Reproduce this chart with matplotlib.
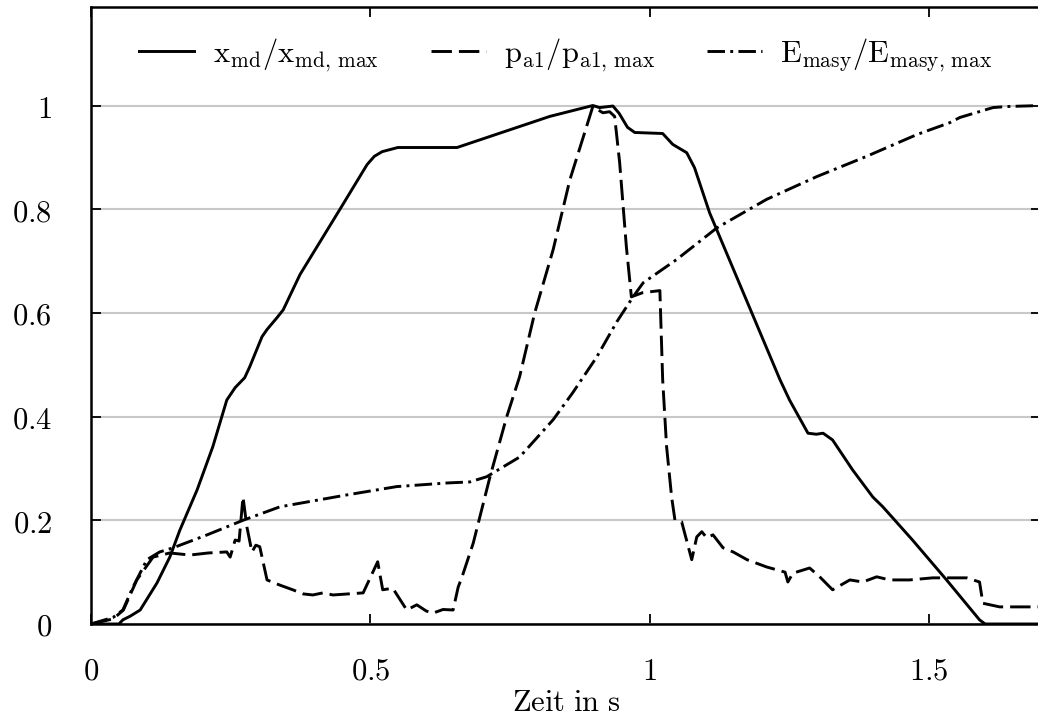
import numpy as np
import matplotlib
matplotlib.use('Agg')
import matplotlib.pyplot as plt
from matplotlib.ticker import FuncFormatter

plt.rcParams['mathtext.fontset'] = 'cm'
plt.rcParams['font.family'] = 'DejaVu Serif'

# x_md / x_md,max
t_x = [0, 0.05, 0.057, 0.07, 0.088, 0.118, 0.141, 0.159, 0.19, 0.218, 0.243, 0.258,
       0.275, 0.284, 0.306, 0.315, 0.333, 0.344, 0.374, 0.445, 0.494, 0.507, 0.521,
       0.549, 0.655, 0.821, 0.898, 0.91, 0.934, 0.945, 0.96, 0.973, 1.023, 1.041,
       1.066, 1.08, 1.107, 1.233, 1.25, 1.283, 1.298, 1.31, 1.327, 1.363, 1.399,
       1.417, 1.47, 1.531, 1.59, 1.6, 1.7]
x_md = [0, 0, 0.008, 0.015, 0.027, 0.079, 0.129, 0.181, 0.259, 0.342, 0.432, 0.456,
        0.475, 0.496, 0.554, 0.568, 0.591, 0.606, 0.674, 0.799, 0.886, 0.902, 0.911,
        0.919, 0.919, 0.979, 1.0, 0.996, 0.999, 0.985, 0.958, 0.948, 0.946, 0.925,
        0.909, 0.88, 0.793, 0.471, 0.432, 0.368, 0.366, 0.368, 0.355, 0.297, 0.245,
        0.226, 0.162, 0.085, 0.008, 0, 0]

# p_a1 / p_a1,max
t_p = [0, 0.04, 0.058, 0.082, 0.111, 0.141, 0.177, 0.21, 0.243, 0.249, 0.258, 0.265,
       0.272, 0.279, 0.288, 0.295, 0.302, 0.315, 0.338, 0.361, 0.38, 0.397, 0.415,
       0.433, 0.46, 0.487, 0.513, 0.522, 0.54, 0.565, 0.583, 0.6, 0.612, 0.63, 0.648,
       0.657, 0.664, 0.684, 0.714, 0.744, 0.767, 0.794, 0.827, 0.857, 0.898, 0.916,
       0.928, 0.937, 0.946, 0.958, 0.967, 0.987, 1.018, 1.023, 1.03, 1.039, 1.045,
       1.057, 1.075, 1.084, 1.093, 1.102, 1.113, 1.131, 1.149, 1.174, 1.209, 1.242,
       1.247, 1.256, 1.286, 1.304, 1.327, 1.358, 1.381, 1.406, 1.429, 1.465, 1.506,
       1.567, 1.59, 1.596, 1.626, 1.7]
p_a1 = [0, 0.01, 0.027, 0.085, 0.129, 0.137, 0.133, 0.137, 0.139, 0.129, 0.162, 0.16,
        0.245, 0.187, 0.139, 0.152, 0.149, 0.085, 0.075, 0.066, 0.058, 0.056, 0.06,
        0.056, 0.058, 0.06, 0.12, 0.066, 0.069, 0.027, 0.037, 0.025, 0.021, 0.028, 0.027,
        0.071, 0.091, 0.156, 0.284, 0.4, 0.477, 0.6, 0.722, 0.857, 0.998, 0.986,
        0.988, 0.979, 0.89, 0.728, 0.631, 0.639, 0.643, 0.471, 0.342, 0.245, 0.2,
        0.197, 0.124, 0.168, 0.178, 0.166, 0.172, 0.147, 0.139, 0.124, 0.11, 0.1,
        0.081, 0.098, 0.108, 0.091, 0.066, 0.085, 0.081, 0.091, 0.085, 0.085, 0.089,
        0.089, 0.081, 0.04, 0.033, 0.033]

# E_masy / E_masy,max
t_e = [0, 0.04, 0.057, 0.075, 0.1, 0.123, 0.147, 0.208, 0.272, 0.338, 0.458, 0.547,
       0.637, 0.678, 0.708, 0.767, 0.827, 0.862, 0.905, 0.941, 0.97, 0.988, 1.048,
       1.12, 1.209, 1.299, 1.388, 1.478, 1.537, 1.555, 1.614, 1.638, 1.7]
e_masy = [0, 0.013, 0.027, 0.071, 0.124, 0.139, 0.147, 0.172, 0.2, 0.226, 0.249, 0.265,
          0.272, 0.274, 0.284, 0.322, 0.394, 0.446, 0.515, 0.583, 0.631, 0.658, 0.703,
          0.764, 0.819, 0.863, 0.902, 0.944, 0.967, 0.977, 0.996, 0.998, 1.0]

labels = [r'$\mathrm{x_{md}/x_{md,\,max}}$',
          r'$\mathrm{p_{a1}/p_{a1,\,max}}$',
          r'$\mathrm{E_{masy}/E_{masy,\,max}}$']

fig = plt.figure(figsize=(10.38, 7.18), dpi=100)
ax = fig.add_axes([91 / 1038, 94 / 718, 950 / 1038, 617 / 718])

lw = 2.1
ax.plot(t_x, x_md, color='black', lw=lw, label=labels[0])
ax.plot(t_p, p_a1, color='black', lw=lw, dashes=(7, 2.4), label=labels[1])
ax.plot(t_e, e_masy, color='black', lw=lw, dashes=(6, 1.8, 1, 1.8), label=labels[2])

ax.set_xlim(0, 1.7)
ax.set_ylim(0, 1.19)
ax.set_xticks([0, 0.5, 1, 1.5])
ax.set_yticks([0, 0.2, 0.4, 0.6, 0.8, 1])
fmt = FuncFormatter(lambda v, pos: r'$%g$' % v)
ax.xaxis.set_major_formatter(fmt)
ax.yaxis.set_major_formatter(fmt)
ax.tick_params(axis='both', direction='in', length=7, width=1.3, labelsize=22,
               top=True, right=True)
ax.tick_params(axis='x', pad=23)
ax.tick_params(axis='y', pad=28)
ax.yaxis.grid(True, color='#c8c8c8', lw=1.5)
ax.set_axisbelow(True)
for s in ax.spines.values():
    s.set_linewidth(1.8)

ax.set_xlabel(r'$\mathrm{Zeit\ in\ s}$', fontsize=22, labelpad=0)

ax.legend(loc='center', bbox_to_anchor=(0.5, 0.922), ncol=3, frameon=False,
          fontsize=22, handlelength=1.8, handletextpad=0.6, columnspacing=1.7)

fig.savefig('out.png', dpi=100)
